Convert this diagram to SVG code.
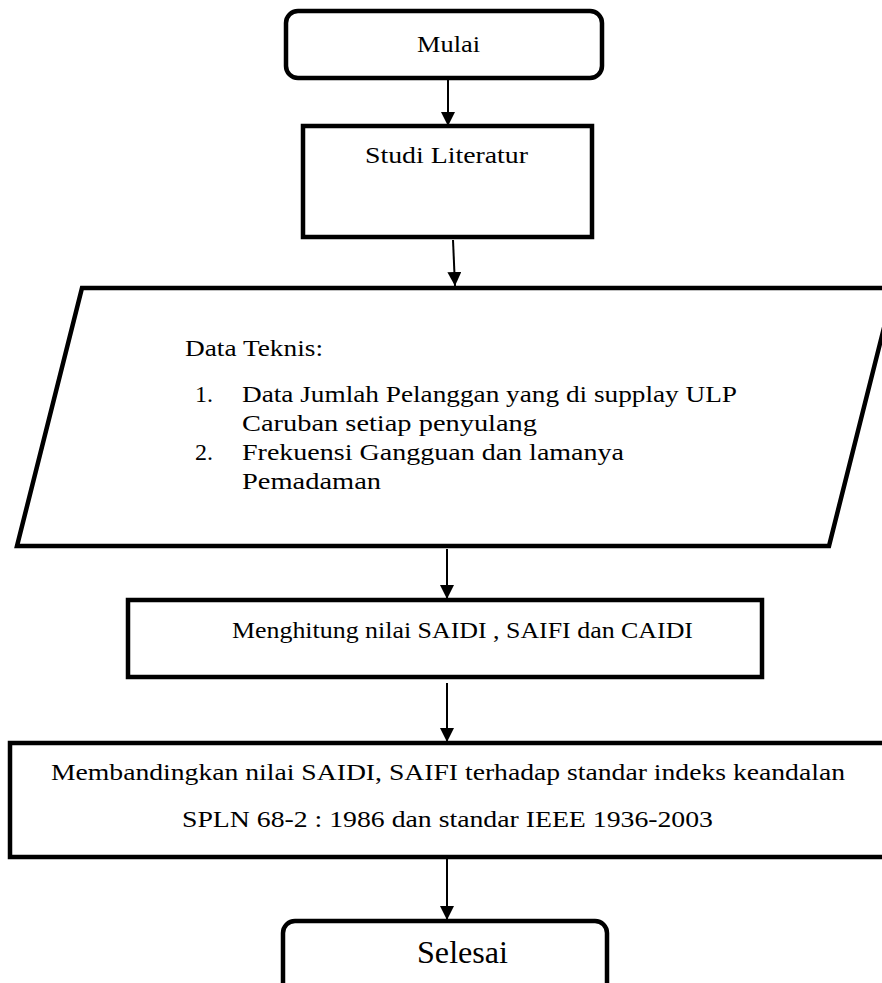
<svg xmlns="http://www.w3.org/2000/svg" width="882" height="983" viewBox="0 0 882 983">
<style>
.box{fill:#fff;stroke:#000;stroke-width:4.5;stroke-linejoin:miter}
.t{font-family:"Liberation Serif","Times New Roman",serif;font-size:24px;fill:#000}
.c{stroke:#000;stroke-width:2;fill:none}
</style>
<defs>
<marker id="ah" markerUnits="userSpaceOnUse" markerWidth="14" markerHeight="16" refX="14" refY="7" orient="auto">
<path d="M0,0 L14,7 L0,14 Z" fill="#000"/>
</marker>
</defs>
<rect width="882" height="983" fill="#fff"/>
<g id="connectors">
<line class="c" x1="448" y1="80" x2="448" y2="126" marker-end="url(#ah)"/>
<line class="c" x1="453" y1="240" x2="455" y2="286" marker-end="url(#ah)"/>
<line class="c" x1="447" y1="549" x2="447" y2="599" marker-end="url(#ah)"/>
<line class="c" x1="447" y1="683" x2="447" y2="742" marker-end="url(#ah)"/>
<line class="c" x1="447" y1="859" x2="447" y2="920" marker-end="url(#ah)"/>
</g>
<g id="mulai">
<rect class="box" x="286" y="11" width="316" height="67" rx="12"/>
<text class="t" x="417" y="52" textLength="63" lengthAdjust="spacingAndGlyphs">Mulai</text>
</g>
<g id="studi">
<rect class="box" x="303" y="126" width="289" height="111"/>
<text class="t" x="365" y="163" textLength="163" lengthAdjust="spacingAndGlyphs">Studi Literatur</text>
</g>
<g id="data">
<polygon class="box" points="82,288 894,288 829,546 17,546"/>
<text class="t" x="185" y="356" textLength="138" lengthAdjust="spacingAndGlyphs">Data Teknis:</text>
<text class="t" x="195" y="402">1.</text>
<text class="t" x="242" y="402" textLength="495" lengthAdjust="spacingAndGlyphs">Data Jumlah Pelanggan yang di supplay ULP</text>
<text class="t" x="242" y="431" textLength="295" lengthAdjust="spacingAndGlyphs">Caruban setiap penyulang</text>
<text class="t" x="195" y="460">2.</text>
<text class="t" x="242" y="460" textLength="382" lengthAdjust="spacingAndGlyphs">Frekuensi Gangguan dan lamanya</text>
<text class="t" x="242" y="489" textLength="139" lengthAdjust="spacingAndGlyphs">Pemadaman</text>
</g>
<g id="menghitung">
<rect class="box" x="128" y="600" width="634" height="77"/>
<text class="t" x="232" y="638" textLength="461" lengthAdjust="spacingAndGlyphs">Menghitung nilai SAIDI , SAIFI dan CAIDI</text>
</g>
<g id="membandingkan">
<rect class="box" x="10" y="743" width="890" height="114"/>
<text class="t" x="51" y="780" textLength="794" lengthAdjust="spacingAndGlyphs">Membandingkan nilai SAIDI, SAIFI terhadap standar indeks keandalan</text>
<text class="t" x="182" y="827" textLength="531" lengthAdjust="spacingAndGlyphs">SPLN 68-2 : 1986 dan standar IEEE 1936-2003</text>
</g>
<g id="selesai">
<rect class="box" x="283" y="921" width="324" height="75" rx="12"/>
<text class="t" x="417" y="963" style="font-size:32px" textLength="91" lengthAdjust="spacingAndGlyphs">Selesai</text>
</g>
</svg>
